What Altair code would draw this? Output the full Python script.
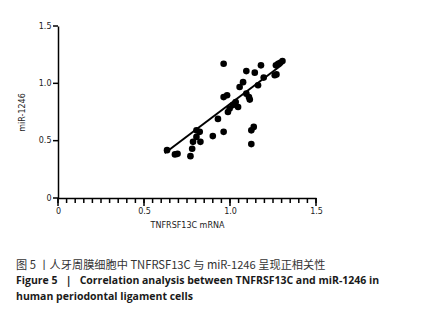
import altair as alt
import pandas as pd

# scatter data
tnf = [0.963, 0.634, 0.68, 0.695, 0.77, 0.78, 0.785, 0.805, 0.824, 0.828, 0.805,
       0.90, 0.93, 0.963, 0.963, 0.983, 0.988, 0.998, 1.017, 1.033, 1.047, 1.056,
       1.076, 1.095, 1.095, 1.11, 1.115, 1.124, 1.124, 1.138, 1.144, 1.163, 1.18,
       1.196, 1.26, 1.27, 1.267, 1.28, 1.292, 1.305]
mir = [1.171, 0.417, 0.38, 0.385, 0.365, 0.43, 0.49, 0.59, 0.577, 0.49, 0.533,
       0.54, 0.69, 0.577, 0.88, 0.896, 0.75, 0.78, 0.81, 0.837, 0.794, 0.968,
       1.01, 1.107, 0.91, 0.88, 0.858, 0.47, 0.59, 0.62, 1.093, 0.983, 1.157,
       1.05, 1.07, 1.078, 1.157, 1.17, 1.18, 1.194]

# fitted line endpoints
fit_x = [0.62, 1.30]
fit_y = [0.39, 1.16]

x_minor_ticks = [round(i * 0.05, 2) for i in range(31)]
x_major_ticks = [0, 0.5, 1.0, 1.5]
y_ticks = [0, 0.5, 1.0, 1.5]

NB = "\u00a0"
caption_cn = "图 5 丨人牙周膜细胞中 TNFRSF13C 与 miR-1246 呈现正相关性"
caption_en1 = f"Figure 5{NB*3}|{NB*3}Correlation analysis between TNFRSF13C and miR-1246 in"
caption_en2 = "human periodontal ligament cells"

pts = pd.DataFrame({"x": tnf, "y": mir})
fit = pd.DataFrame({"x": fit_x, "y": fit_y})
xminor_df = pd.DataFrame({"x": x_minor_ticks})
xmajor_df = pd.DataFrame({"x": x_major_ticks})
yt_df = pd.DataFrame({"y": y_ticks})

xscale = alt.Scale(domain=[0, 1.5], nice=False)
yscale = alt.Scale(domain=[0, 1.5], nice=False)

base_font = "DejaVu Sans"

x_axis = alt.Axis(values=x_major_ticks, labelOverlap=False, ticks=False,
                  labelExpr="datum.value == 0 ? '0' : format(datum.value, '.1f')",
                  grid=False, domainColor="black", domainWidth=1.5,
                  labelFont=base_font, labelFontSize=8, labelColor="#222",
                  labelPadding=9, labelFlush=False,
                  titleFont=base_font, titleFontSize=8, titleFontWeight="normal",
                  titleColor="#222", titlePadding=6)
y_axis = alt.Axis(values=y_ticks, labelOverlap=False, ticks=False,
                  labelExpr="datum.value == 0 ? '0' : format(datum.value, '.1f')",
                  grid=False, domainColor="black", domainWidth=1.5,
                  labelFont=base_font, labelFontSize=8, labelColor="#222",
                  labelPadding=7,
                  titleFont=base_font, titleFontSize=8, titleFontWeight="normal",
                  titleColor="#222", titlePadding=12)

X = lambda: alt.X("x:Q", scale=xscale, title="TNFRSF13C mRNA", axis=x_axis)
Y = lambda: alt.Y("y:Q", scale=yscale, title="miR-1246", axis=y_axis)

points = alt.Chart(pts).mark_circle(size=44, color="black", opacity=1).encode(x=X(), y=Y())
line = alt.Chart(fit).mark_line(color="black", strokeWidth=2).encode(x=X(), y=Y())

xminor = alt.Chart(xminor_df).mark_tick(
    orient="vertical", color="black", thickness=1.5, size=5, opacity=1
).encode(x=X(), y=alt.value(174.5))
xmajor = alt.Chart(xmajor_df).mark_tick(
    orient="vertical", color="black", thickness=1.5, size=8, opacity=1
).encode(x=X(), y=alt.value(176))
ytk = alt.Chart(yt_df).mark_tick(
    orient="horizontal", color="black", thickness=1.5, size=5, opacity=1
).encode(y=Y(), x=alt.value(-2.5))

cap_df = pd.DataFrame({"t": [caption_cn]})
cap1 = alt.Chart(cap_df).mark_text(
    align="left", baseline="middle", font="Noto Sans CJK SC", fontSize=11.2, color="#333"
).encode(text="t:N", x=alt.value(-42), y=alt.value(240))

cap_df2 = pd.DataFrame({"t": [caption_en1]})
cap2 = alt.Chart(cap_df2).mark_text(
    align="left", baseline="middle", font="Open Sans", fontSize=10.5, fontWeight="bold", color="#1a1a1a"
).encode(text="t:N", x=alt.value(-42), y=alt.value(255))

cap_df3 = pd.DataFrame({"t": [caption_en2]})
cap3 = alt.Chart(cap_df3).mark_text(
    align="left", baseline="middle", font="Open Sans", fontSize=10.5, fontWeight="bold", color="#1a1a1a"
).encode(text="t:N", x=alt.value(-42), y=alt.value(271))

chart = alt.layer(points, line, xminor, xmajor, ytk, cap1, cap2, cap3).properties(
    width=258, height=172,
    autosize=alt.AutoSizeParams(type="none"),
    padding={"left": 50, "top": 18, "right": 110, "bottom": 115},
    background="white",
).configure_view(stroke="transparent", strokeWidth=0)

chart.save("out.html", embed_options={"renderer": "svg", "actions": False})
